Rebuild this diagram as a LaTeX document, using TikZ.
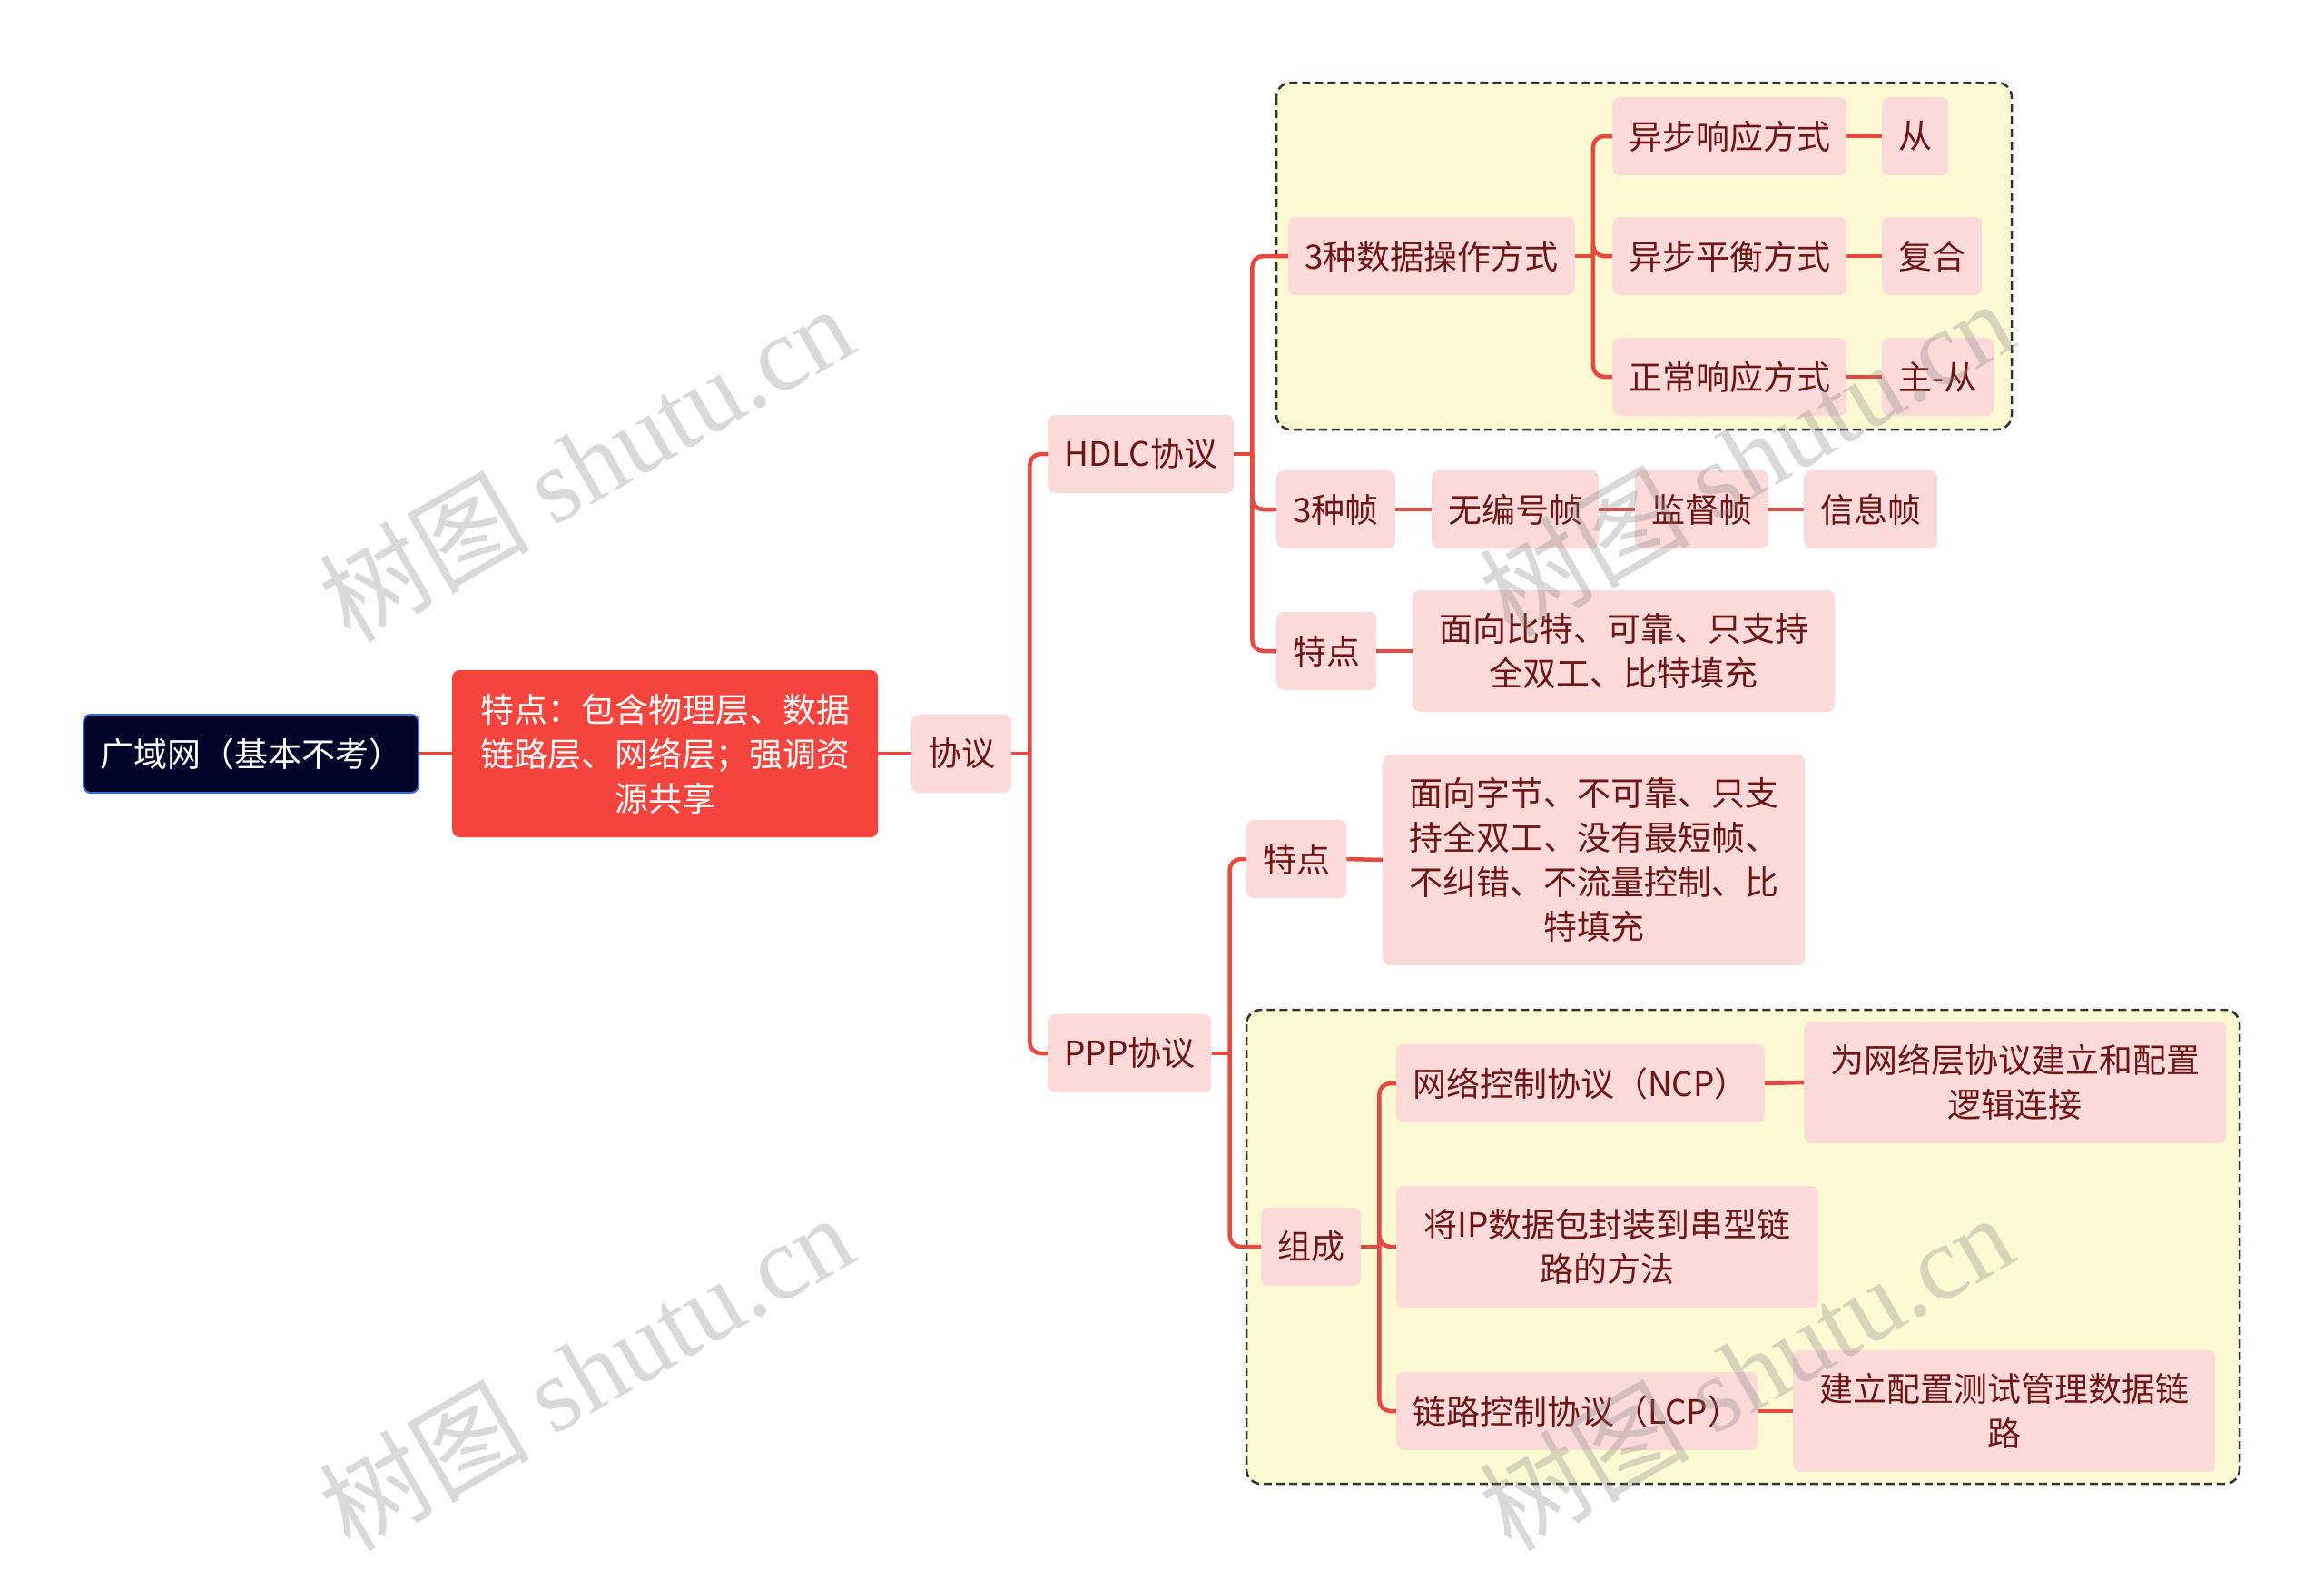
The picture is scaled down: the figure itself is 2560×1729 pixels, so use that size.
\documentclass[tikz,border=0pt]{standalone}
\usepackage{fontspec}
\setmainfont{Noto Sans CJK SC}
\newfontfamily\wmfont{Liberation Serif}
\usepackage{tikz}
\usetikzlibrary{positioning, calc}

\definecolor{linkred}{HTML}{E8483F}
\definecolor{pinkfill}{HTML}{FDDADA}
\definecolor{darkred}{HTML}{701515}
\definecolor{redfill}{HTML}{F5443D}
\definecolor{navyfill}{HTML}{02042A}
\definecolor{navyline}{HTML}{3A6BD0}
\definecolor{groupyellow}{HTML}{FDF9D2}

\begin{document}
\begin{tikzpicture}[x=1pt, y=-1pt,
    every node/.style={font=\fontsize{37}{49}\selectfont, anchor=west},
    topic/.style={fill=pinkfill, text=darkred, rounded corners=8pt, minimum height=86pt, inner xsep=18pt, inner ysep=0pt, align=center},
    detail/.style={topic, minimum width=465pt, minimum height=134pt},
    link/.style={draw=linkred, line width=4.5pt},
    elbow/.style={link, rounded corners=12pt},
    group/.style={draw=black!80, dashed, dash pattern=on 9pt off 5pt, line width=2.5pt, fill=groupyellow, rounded corners=16pt},
    watermark/.style={text=gray, opacity=0.3, font=\fontsize{116}{116}\selectfont, anchor=center, rotate=30},
]
  \useasboundingbox (0,0) rectangle (2560,1729);

  % dashed groups behind the nodes
  \draw[group] (1406,91) rectangle (2216,473);
  \draw[group] (1373,1112) rectangle (2467,1634);

  \node[topic, fill=navyfill, draw=navyline, line width=2pt, text=white] (wan) at (91,830) {广域网（基本不考）};
  \node[topic, fill=redfill, text=white, minimum width=469pt, minimum height=184pt] (feat) at (498,830) {特点：包含物理层、数据\\链路层、网络层；强调资\\源共享};
  \node[topic] (proto) at (1004,830) {协议};
  \node[topic] (hdlc) at (1154,500) {HDLC协议};
  \node[topic] (ppp) at (1154,1160) {PPP协议};

  % HDLC branch
  \node[topic] (ops) at (1419,282) {3种数据操作方式};
  \node[topic] (arm) at (1776,150) {异步响应方式};
  \node[topic] (abm) at (1776,282) {异步平衡方式};
  \node[topic] (nrm) at (1776,415) {正常响应方式};
  \node[topic] (armx) at (2073,150) {从};
  \node[topic] (abmx) at (2073,282) {复合};
  \node[topic] (nrmx) at (2073,415) {主-从};
  \node[topic] (frames) at (1406,561) {3种帧};
  \node[topic] (unnum) at (1577,561) {无编号帧};
  \node[topic] (superv) at (1801,561) {监督帧};
  \node[topic] (info) at (1987,561) {信息帧};
  \node[topic] (hfeat) at (1406,717) {特点};
  \node[detail] (hnote) at (1556,717) {面向比特、可靠、只支持\\全双工、比特填充};

  % PPP branch
  \node[topic] (pfeat) at (1373,946) {特点};
  \node[detail, minimum height=232pt] (pnote) at (1523,947) {面向字节、不可靠、只支\\持全双工、没有最短帧、\\不纠错、不流量控制、比\\特填充};
  \node[topic] (comp) at (1389,1373) {组成};
  \node[topic] (ncp) at (1538,1193) {网络控制协议（NCP）};
  \node[detail] (ncpnote) at (1987,1192) {为网络层协议建立和配置\\逻辑连接};
  \node[detail] (encap) at (1538,1373) {将IP数据包封装到串型链\\路的方法};
  \node[topic] (lcp) at (1538,1554) {链路控制协议（LCP）};
  \node[detail] (lcpnote) at (1975,1554) {建立配置测试管理数据链\\路};

  % straight links
  \draw[link] (wan.east) -- (feat.west);
  \draw[link] (feat.east) -- (proto.west);
  \draw[link] (arm.east) -- (armx.west);
  \draw[link] (abm.east) -- (abmx.west);
  \draw[link] (nrm.east) -- (nrmx.west);
  \draw[link] (frames.east) -- (unnum.west);
  \draw[link] (unnum.east) -- (superv.west);
  \draw[link] (superv.east) -- (info.west);
  \draw[link] (hfeat.east) -- (hnote.west);
  \draw[link] (pfeat.east) -- (pnote.west);
  \draw[link] (ncp.east) -- (ncpnote.west);
  \draw[link] (lcp.east) -- (lcpnote.west);

  % forks
  \draw[link] (proto.east) -- ++(20,0) coordinate (protohub);
  \draw[elbow] (protohub) |- (hdlc.west);
  \draw[elbow] (protohub) |- (ppp.west);
  \draw[link] (hdlc.east) -- ++(20,0) coordinate (hdlchub);
  \draw[elbow] (hdlchub) |- (ops.west);
  \draw[elbow] (hdlchub) |- (frames.west);
  \draw[elbow] (hdlchub) |- (hfeat.west);
  \draw[link] (ops.east) -- ++(20,0) coordinate (opshub);
  \draw[elbow] (opshub) |- (arm.west);
  \draw[elbow] (opshub) |- (abm.west);
  \draw[elbow] (opshub) |- (nrm.west);
  \draw[link] (ppp.east) -- ++(20,0) coordinate (ppphub);
  \draw[elbow] (ppphub) |- (pfeat.west);
  \draw[elbow] (ppphub) |- (comp.west);
  \draw[link] (comp.east) -- ++(20,0) coordinate (comphub);
  \draw[elbow] (comphub) |- (ncp.west);
  \draw[elbow] (comphub) |- (encap.west);
  \draw[elbow] (comphub) |- (lcp.west);

  % watermarks
  \node[watermark] (wm1) at (645,509) {树图 {\wmfont shutu.cn}};
  \node[watermark] (wm2) at (645,1510) {树图 {\wmfont shutu.cn}};
  \node[watermark] (wm3) at (1923,503) {树图 {\wmfont shutu.cn}};
  \node[watermark] (wm4) at (1923,1510) {树图 {\wmfont shutu.cn}};
\end{tikzpicture}
\end{document}
